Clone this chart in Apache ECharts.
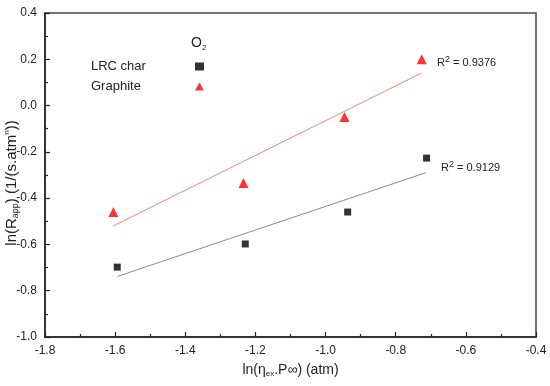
<!DOCTYPE html>
<html><head><meta charset="utf-8">
<script src="https://cdn.jsdelivr.net/npm/echarts@6/dist/echarts.min.js"></script>
<style>html,body{margin:0;padding:0;background:#fff}#c{width:550px;height:386px}</style>
</head><body><div id="c"></div>
<script>
var lrcX = [-1.594, -1.229, -0.937, -0.712];
var lrcY = [-0.698, -0.598, -0.460, -0.227];
var grX = [-1.605, -1.234, -0.946, -0.726];
var grY = [-0.460, -0.335, -0.049, 0.200];
var lrcFitX = [-1.593, -0.714];
var lrcFitY = [-0.738, -0.290];
var grFitX = [-1.605, -0.727];
var grFitY = [-0.520, 0.140];
var xTicks = [-1.8, -1.6, -1.4, -1.2, -1.0, -0.8, -0.6, -0.4];
var yTicks = [0.4, 0.2, 0.0, -0.2, -0.4, -0.6, -0.8, -1.0];
var r2Text = ['0.9376', '0.9129'];

function pts(xs, ys){ return xs.map(function(x,i){return [x, ys[i]];}); }
var FONT = '"Liberation Sans", Arial, sans-serif';
var chart = echarts.init(document.getElementById('c'), null, {renderer:'canvas'});
var axisCommon = {
  axisLine:{show:true, onZero:false, lineStyle:{color:'#222', width:1.5}},
  axisTick:{show:true, inside:true, length:5, lineStyle:{color:'#222', width:1.2}},
  minorTick:{show:true, splitNumber:2, length:3, lineStyle:{color:'#222', width:1.2}},
  splitLine:{show:false},
  axisLabel:{color:'#222', fontSize:12, fontFamily:FONT, formatter:function(v){return v.toFixed(1);}}
};
chart.setOption({
  animation:false,
  backgroundColor:'#fff',
  grid:{left:45, right:14, top:13, bottom:49, containLabel:false, outerBoundsMode:'none',
    show:true, borderColor:'#444', borderWidth:1.5},
  xAxis: Object.assign({}, axisCommon, {
    type:'value', min:xTicks[0], max:xTicks[xTicks.length-1], interval:0.2,
    name:'ln(η{sub|ex}.P∞) (atm)', nameLocation:'middle', nameGap:25, nameMoveOverlap:false,
    nameTextStyle:{color:'#222', fontSize:14, fontFamily:FONT,
      rich:{sub:{fontSize:8, padding:[8,0,0,0], fontFamily:FONT, color:'#222'}}}
  }),
  yAxis: Object.assign({}, axisCommon, {
    type:'value', min:yTicks[yTicks.length-1], max:yTicks[0], interval:0.2,
    name:'ln(R{sub|app}) (1/(s.atm{sup|n}))', nameLocation:'middle', nameGap:25, nameMoveOverlap:false,
    nameTextStyle:{color:'#222', fontSize:15, fontFamily:FONT, padding:[0,16,0,0],
      rich:{sub:{fontSize:9, padding:[8,0,0,0], fontFamily:FONT, color:'#222'},
            sup:{fontSize:8, padding:[0,0,9,0], fontFamily:FONT, color:'#222'}}}
  }),
  legend:{
    orient:'vertical', left:86, top:55, align:'right', itemGap:7, itemWidth:9, itemHeight:8,
    formatter:function(n){return '{a|'+n+'}';},
    textStyle:{color:'#222', fontSize:13, fontFamily:FONT,
      rich:{a:{width:99, align:'left', fontSize:13, fontFamily:FONT, color:'#222'}}},
    data:[{name:'LRC char', icon:'rect', itemStyle:{color:'#000'}}, {name:'Graphite', icon:'triangle', itemStyle:{color:'#ff0000'}}]
  },
  graphic:[
    {type:'text', left:191, top:36, style:{text:'O{sub|2}', fill:'#222', font:'14px '+FONT,
      rich:{sub:{fontSize:8, padding:[9,0,0,0], fontFamily:FONT, fill:'#222'}}}},
    {type:'text', left:437, top:55, style:{text:'R{sup|2} = '+r2Text[0], fill:'#222', font:'11px '+FONT,
      rich:{sup:{fontSize:9, padding:[0,0,6,0], fontFamily:FONT, fill:'#222'}}}},
    {type:'text', left:441, top:160, style:{text:'R{sup|2} = '+r2Text[1], fill:'#222', font:'11px '+FONT,
      rich:{sup:{fontSize:9, padding:[0,0,6,0], fontFamily:FONT, fill:'#222'}}}}
  ],
  series:[
    {name:'LRC fit', type:'line', data:pts(lrcFitX, lrcFitY), symbol:'none', lineStyle:{color:'#8c8c8c', width:1}, silent:true},
    {name:'Graphite fit', type:'line', data:pts(grFitX, grFitY), symbol:'none', lineStyle:{color:'#ff8080', width:1}, silent:true},
    {name:'LRC char', type:'scatter', data:pts(lrcX, lrcY), symbol:'rect', symbolSize:7, itemStyle:{color:'#000'}},
    {name:'Graphite', type:'scatter', data:pts(grX, grY), symbol:'triangle', symbolSize:10, itemStyle:{color:'#ff0000'}}
  ]
});
</script></body></html>
